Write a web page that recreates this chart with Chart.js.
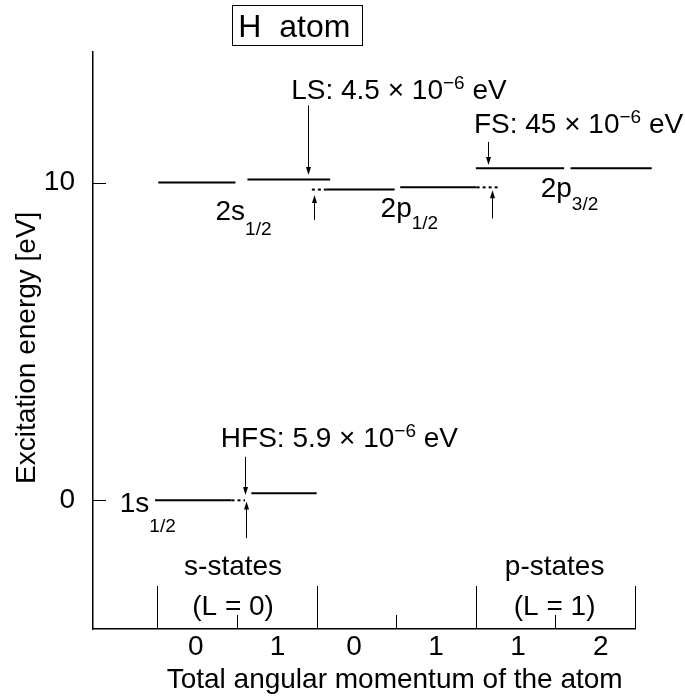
<!DOCTYPE html>
<html>
<head>
<meta charset="utf-8">
<title>H atom</title>
<script src="https://cdn.jsdelivr.net/npm/chart.js@4"></script>
<style>
  body { margin: 0; background: #fff; }
  canvas { display: block; }
</style>
</head>
<body>
<canvas id="levels" width="685" height="696"></canvas>
<script>
// total angular momentum of each column
var fLabels = ['0', '1', '0', '1', '1', '2'];
var fTicks = [0.48, 1.51, 2.47, 3.5, 4.53, 5.57];
var groupEdges = [0, 2, 4, 6];
var groupMids = [1, 3, 5];
var energyTicks = [0, 10];

// levels: 1s F=0, 1s F=1, 2s F=0, 2s F=1, 2p1/2 F=0, 2p1/2 F=1, 2p3/2 F=1, 2p3/2 F=2
var levelStart  = [-0.03, 1.18, 0.01, 1.13, 2.12, 3.05, 4.00, 5.19];
var levelEnd    = [0.93, 2.00, 0.98, 2.17, 2.98, 4.01, 5.11, 6.21];
var levelEnergy = [0, 0.22, 10, 10.1, 9.78, 9.85, 10.45, 10.45];

// dotted guides
var guideStart  = [0.93, 1.94, 4.01];
var guideEnd    = [1.10, 2.12, 4.30];
var guideEnergy = [0, 9.78, 9.85];

// splitting arrows (tip at arrowTo)
var arrowX    = [1.89, 1.965, 4.15, 4.20, 1.10, 1.11];
var arrowFrom = [12.43, 8.82, 11.28, 8.87, 1.37, -1.19];
var arrowTo   = [10.24, 9.61, 10.55, 9.76, 0.17, -0.04];

var FONT = "'Liberation Sans', Arial, Helvetica, sans-serif";

var notes = [
  {text: 'LS: 4.5 \u00d7 10^{\u22126} eV', x: 1.68, y: 12.64},
  {text: 'FS: 45 \u00d7 10^{\u22126} eV', x: 3.976, y: 11.55},
  {text: 'HFS: 5.9 \u00d7 10^{\u22126} eV', x: 0.796, y: 1.667},
  {text: '2s_{1/2}', x: 0.729, y: 8.82, sub: 15},
  {text: '2p_{1/2}', x: 2.803, y: 8.91, sub: 12},
  {text: '2p_{3/2}', x: 4.815, y: 9.55, sub: 13},
  {text: '1s_{1/2}', x: -0.474, y: -0.36, sub: 20},
  {text: 's-states', x: 0.95, y: -2.35, center: true},
  {text: '(L = 0)', x: 0.95, y: -3.61, center: true},
  {text: 'p-states', x: 4.99, y: -2.35, center: true},
  {text: '(L = 1)', x: 4.99, y: -3.61, center: true}
];

function pieces(text) {
  return text.split(/([\^_]\{[^}]*\})/).filter(function (s) { return s; }).map(function (s) {
    if (s[0] === '^') return {t: s.slice(2, -1), sup: true};
    if (s[0] === '_') return {t: s.slice(2, -1), sub: true};
    return {t: s};
  });
}

function drawNote(ctx, n, px, py) {
  var parts = pieces(n.text);
  var w = 0;
  parts.forEach(function (p) {
    ctx.font = ((p.sup || p.sub) ? 19 : 28) + 'px ' + FONT;
    p.w = ctx.measureText(p.t).width;
    w += p.w;
  });
  var cx = n.center ? px - w / 2 : px;
  parts.forEach(function (p) {
    ctx.font = ((p.sup || p.sub) ? 19 : 28) + 'px ' + FONT;
    var dy = p.sup ? -10 : (p.sub ? (n.sub || 13) : 0);
    ctx.fillText(p.t, cx, py + dy);
    cx += p.w;
  });
}

function seg(ctx, x1, y1, x2, y2) {
  ctx.beginPath();
  ctx.moveTo(x1, y1);
  ctx.lineTo(x2, y2);
  ctx.stroke();
}

var levelNotes = {
  id: 'levelNotes',
  afterDatasetsDraw: function (chart) {
    var ctx = chart.ctx, xs = chart.scales.x, ys = chart.scales.y, area = chart.chartArea;
    ctx.save();
    ctx.strokeStyle = '#000';
    ctx.fillStyle = '#000';
    ctx.lineWidth = 1;

    // inward ticks
    energyTicks.forEach(function (v) {
      var py = Math.round(ys.getPixelForValue(v)) + 0.5;
      seg(ctx, area.left, py, area.left + 13, py);
    });
    groupEdges.forEach(function (v) {
      var px = Math.round(xs.getPixelForValue(v)) + 0.5;
      seg(ctx, px, area.bottom, px, area.bottom - 43);
    });
    groupMids.forEach(function (v) {
      var px = Math.round(xs.getPixelForValue(v)) + 0.5;
      seg(ctx, px, area.bottom, px, area.bottom - 14);
    });

    // arrows
    arrowX.forEach(function (v, i) {
      var px = Math.round(xs.getPixelForValue(v)) + 0.5;
      var y0 = ys.getPixelForValue(arrowFrom[i]);
      var y1 = ys.getPixelForValue(arrowTo[i]);
      var dir = y1 > y0 ? 1 : -1;
      seg(ctx, px, y0, px, y1 - dir * 6);
      ctx.beginPath();
      ctx.moveTo(px, y1);
      ctx.lineTo(px - 2.5, y1 - dir * 8);
      ctx.lineTo(px + 2.5, y1 - dir * 8);
      ctx.closePath();
      ctx.fill();
    });

    // text labels
    ctx.textAlign = 'left';
    ctx.textBaseline = 'alphabetic';
    notes.forEach(function (n) {
      drawNote(ctx, n, xs.getPixelForValue(n.x), ys.getPixelForValue(n.y));
    });

    // boxed title
    ctx.font = '32px ' + FONT;
    var tx = xs.getPixelForValue(1.016), ty = ys.getPixelForValue(14.59);
    var tw = ctx.measureText('H  atom').width;
    ctx.fillText('H  atom', tx, ty);
    ctx.strokeRect(Math.round(tx - 6.5) + 0.5, Math.round(ty - 31.7) + 0.5, Math.round(tw + 18), 40);

    // axis titles
    ctx.font = '28px ' + FONT;
    ctx.textAlign = 'center';
    ctx.fillText('Total angular momentum of the atom', xs.getPixelForValue(2.98), area.bottom + 59);
    ctx.save();
    ctx.translate(35, ys.getPixelForValue(4.8));
    ctx.rotate(-Math.PI / 2);
    ctx.fillText('Excitation energy [eV]', 0, 0);
    ctx.restore();

    ctx.restore();
  }
};

var datasets = [];
levelEnergy.forEach(function (e, i) {
  datasets.push({
    data: [{x: levelStart[i], y: e}, {x: levelEnd[i], y: e}],
    borderColor: '#000',
    borderWidth: 2,
    pointRadius: 0,
    clip: false
  });
});
guideEnergy.forEach(function (e, i) {
  datasets.push({
    data: [{x: guideStart[i], y: e}, {x: guideEnd[i], y: e}],
    borderColor: '#000',
    borderWidth: 2,
    borderDash: [3, 3],
    pointRadius: 0,
    clip: false
  });
});

Chart.defaults.font.family = FONT;
Chart.defaults.color = '#000';

var ctx = document.getElementById('levels').getContext('2d');
var myChart = new Chart(ctx, {
  type: 'line',
  data: { datasets: datasets },
  options: {
    responsive: false,
    animation: false,
    devicePixelRatio: 1,
    layout: { padding: { top: 52, right: 50, left: 0, bottom: 0 } },
    plugins: {
      legend: { display: false },
      tooltip: { enabled: false }
    },
    scales: {
      x: {
        type: 'linear',
        min: -0.81,
        max: 6.0,
        grid: { display: false, drawTicks: false },
        border: { display: true, color: '#000', width: 1.5 },
        afterBuildTicks: function (s) { s.ticks = fTicks.map(function (v) { return {value: v}; }); },
        afterFit: function (s) { s.height = 67; },
        ticks: {
          autoSkip: false,
          maxRotation: 0,
          padding: 1,
          color: '#000',
          font: { size: 28 },
          callback: function (v, i) { return fLabels[i]; }
        }
      },
      y: {
        type: 'linear',
        min: -4.05,
        max: 14.11,
        grid: { display: false, drawTicks: false },
        border: { display: true, color: '#000', width: 1.5 },
        afterBuildTicks: function (s) { s.ticks = energyTicks.map(function (v) { return {value: v}; }); },
        afterFit: function (s) { s.width = 93; },
        ticks: {
          padding: 18,
          color: '#000',
          font: { size: 28 },
          callback: function (v) { return String(v); }
        }
      }
    }
  },
  plugins: [levelNotes]
});
</script>
</body>
</html>
